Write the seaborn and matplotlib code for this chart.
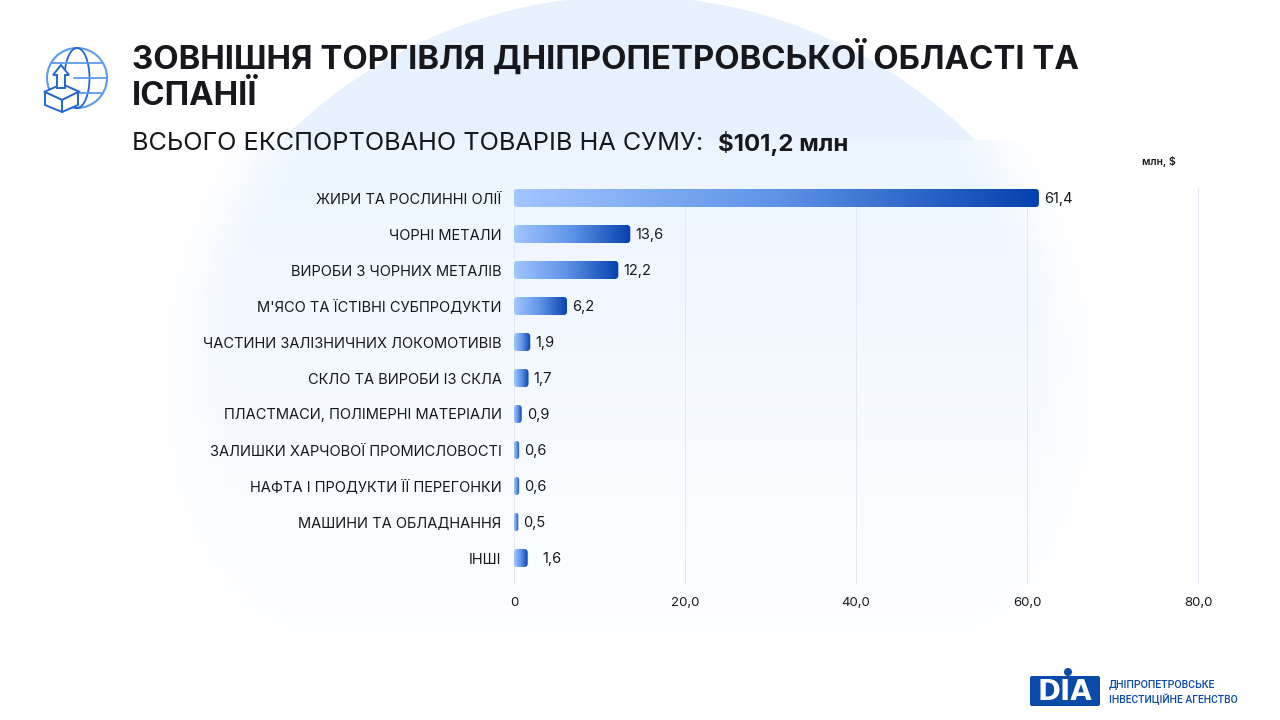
"""
Зовнішня торгівля Дніпропетровської області та Іспанії — horizontal bars
"""
import matplotlib
matplotlib.use("Agg")
import matplotlib.pyplot as plt
import numpy as np
import pandas as pd
import seaborn as sns
from matplotlib.colors import LinearSegmentedColormap
from matplotlib.patches import Circle, Ellipse, FancyBboxPatch, Polygon

TITLE = "ЗОВНІШНЯ ТОРГІВЛЯ ДНІПРОПЕТРОВСЬКОЇ ОБЛАСТІ ТА\nІСПАНІЇ"
SUBTITLE = "ВСЬОГО ЕКСПОРТОВАНО ТОВАРІВ НА СУМУ:"
TOTAL = "$101,2 млн"
UNIT = "млн, $"

categories = ["ЖИРИ ТА РОСЛИННІ ОЛІЇ", "ЧОРНІ МЕТАЛИ", "ВИРОБИ З ЧОРНИХ МЕТАЛІВ",
              "М'ЯСО ТА ЇСТІВНІ СУБПРОДУКТИ", "ЧАСТИНИ ЗАЛІЗНИЧНИХ ЛОКОМОТИВІВ",
              "СКЛО ТА ВИРОБИ ІЗ СКЛА", "ПЛАСТМАСИ, ПОЛІМЕРНІ МАТЕРІАЛИ",
              "ЗАЛИШКИ ХАРЧОВОЇ ПРОМИСЛОВОСТІ", "НАФТА І ПРОДУКТИ ЇЇ ПЕРЕГОНКИ",
              "МАШИНИ ТА ОБЛАДНАННЯ", "ІНШІ"]
values = [61.4, 13.6, 12.2, 6.2, 1.9, 1.7, 0.9, 0.6, 0.6, 0.5, 1.6]
ticks = [0, 20, 40, 60, 80]
tick_labels = ["0", "20,0", "40,0", "60,0", "80,0"]

DARK = "#16181d"
FONT = "Inter"
W, H = 1280, 720
PX_PER_UNIT = 8.55

sns.set_theme(style="white")
plt.rcParams["font.family"] = [FONT, "DejaVu Sans"]

fig = plt.figure(figsize=(W / 100, H / 100), dpi=100, facecolor="white")

# ── background: pale circle cut at y=140, soft fading panel below ─
bg = fig.add_axes([0, 0, 1, 1], zorder=0)
bg.set_xlim(0, W); bg.set_ylim(H, 0); bg.axis("off")
yy, xx = np.mgrid[0:H, 0:W]
sharp = np.clip(490 - np.hypot(xx - 628, yy - 485), 0, 1) * (yy < 140)
soft = np.clip((482 - np.hypot(xx - 628, yy - 400)) / 82, 0, 1)
soft = soft * soft * (3 - 2 * soft) * np.clip((660 - yy) / 520, 0, 1) * (yy >= 140)
pale = np.array([0.902, 0.949, 0.996])
glow = np.array([0.925, 0.96, 1.0])
img = np.ones((H, W, 3))
for c in range(3):
    img[..., c] = 1 - (1 - glow[c]) * soft
    img[..., c] = img[..., c] * (1 - sharp) + pale[c] * sharp
bg.imshow(img, extent=(0, W, H, 0), aspect="auto", interpolation="bilinear")
bg.set_xlim(0, W); bg.set_ylim(H, 0)

# ── chart ─────────────────────────────────────────────────────────
left, right, top, bottom = 514, 1204, 188, 584
ax = fig.add_axes([left / W, 1 - bottom / H, (right - left) / W, (bottom - top) / H], zorder=2)
ax.patch.set_alpha(0)
df = pd.DataFrame({"category": categories, "value": values})
sns.barplot(data=df, y="category", x="value", orient="y", width=0.5, ax=ax, color="#3f7fe0")
ax.set_xlim(0, (right - left) / PX_PER_UNIT)
ax.set_ylim((bottom - 198) / 36, (top - 198) / 36)
ax.set_xlabel(""); ax.set_ylabel("")
ax.set_xticks(ticks, tick_labels)
ax.tick_params(axis="x", length=0, pad=9, labelsize=9.5, colors=DARK)
ax.tick_params(axis="y", length=0, pad=9, labelsize=10.5, colors=DARK)
ax.grid(axis="x", color="#e2e7f1", linewidth=0.7)
ax.grid(axis="y", visible=False)
ax.set_axisbelow(True)
sns.despine(ax=ax, left=True, bottom=True, top=True, right=True)

# seaborn gives the bar geometry, the rounded gradient fill goes on top of it
cmap = LinearSegmentedColormap.from_list("bar", ["#a2c6ff", "#5e93e6", "#0541ae"])
gradient = np.linspace(0, 1, 256).reshape(1, -1)
xlim, ylim = ax.get_xlim(), ax.get_ylim()
for patch, cat, val in zip(ax.patches, categories, values):
    x0, y0, w, h = patch.get_x(), patch.get_y(), patch.get_width(), patch.get_height()
    patch.set_visible(False)
    im = ax.imshow(gradient, extent=(x0, x0 + w, y0 + h, y0), cmap=cmap, aspect="auto", zorder=3)
    # rounded corners, radius in pixels so it stays round
    box = FancyBboxPatch((x0, y0), w, h, boxstyle="round,pad=0,rounding_size=%.3f"
                         % (min(3.5, w * PX_PER_UNIT / 2) / PX_PER_UNIT),
                         mutation_aspect=PX_PER_UNIT / 36,
                         transform=ax.transData, facecolor="none", edgecolor="none")
    ax.add_patch(box)
    im.set_clip_path(box)
    pad = 1.75 if cat == "ІНШІ" else 0.6
    ax.text(x0 + w + pad, y0 + h / 2 + 0.02, f"{val:.1f}".replace(".", ","), va="center", ha="left",
            fontsize=10.5, color=DARK, zorder=4)
ax.set_xlim(xlim); ax.set_ylim(ylim)

# ── overlay: texts, icon, logo (pixel coordinates) ────────────────
ov = fig.add_axes([0, 0, 1, 1], zorder=3)
ov.set_xlim(0, W); ov.set_ylim(H, 0); ov.axis("off"); ov.patch.set_alpha(0)

ov.text(132, 76, TITLE, fontsize=23.7, fontweight="bold", color=DARK, va="center", ha="left", linespacing=1.22)
ov.text(132, 143, SUBTITLE, fontsize=18.2, color=DARK, va="center", ha="left")
ov.text(718, 143, TOTAL, fontsize=17.3, fontweight="bold", color=DARK, va="center", ha="left")
ov.text(1159, 161.5, UNIT, fontsize=7.5, fontweight="semibold", color=DARK, va="center", ha="center")

# globe with a box
blue, light = "#2468cf", "#5f9bee"
ov.add_patch(Circle((77, 78), 30, fill=False, ec=light, lw=1.5))
ov.add_patch(Ellipse((77, 78), 25, 60, fill=False, ec=blue, lw=1.3))
for y0, x0, x1 in [(63, 51, 103), (78, 74, 107), (93, 80, 103)]:
    ov.plot([x0, x1], [y0, y0], color=light, lw=1.3)
ov.add_patch(Polygon([(44, 92), (62, 84), (80, 92), (62, 100)], fc="white", ec=blue, lw=1.4))
ov.add_patch(Polygon([(45, 92), (45, 105), (62, 112), (78, 105), (78, 92), (62, 100)], fc="white", ec=blue, lw=1.4))
ov.plot([62, 62], [100, 112], color=blue, lw=1.4)
ov.add_patch(Polygon([(57, 88), (57, 75), (53, 75), (61, 65), (69, 75), (65, 75), (65, 88)],
                     fc="white", ec=blue, lw=1.4))

# logo
logo = "#0b4aa8"
ov.add_patch(FancyBboxPatch((1030, 676), 70, 30, boxstyle="round,pad=0,rounding_size=2", fc=logo, ec="none"))
ov.add_patch(Circle((1068, 672), 4, fc=logo, ec="none"))
ov.text(1065, 692, "DIA", fontsize=20, fontweight="bold", color="white", ha="center", va="center", family="DejaVu Sans")
ov.text(1109, 684, "ДНІПРОПЕТРОВСЬКЕ", fontsize=7.7, color=logo, family="Roboto", fontweight="medium", ha="left", va="center")
ov.text(1109, 699, "ІНВЕСТИЦІЙНЕ АГЕНСТВО", fontsize=7.5, color=logo, family="Roboto", fontweight="medium", ha="left", va="center")

plt.savefig("out.png", dpi=100)
plt.close()
